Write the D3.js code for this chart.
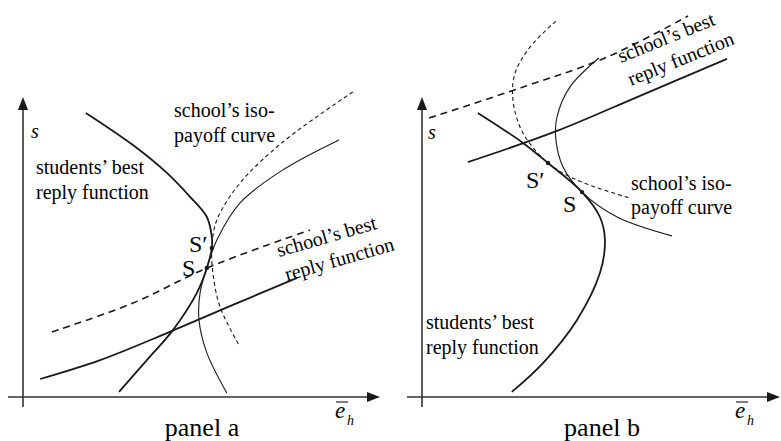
<!DOCTYPE html>
<html><head><meta charset="utf-8">
<script src="https://cdn.jsdelivr.net/npm/d3@7"></script>
</head><body style="margin:0;background:#fff">
<svg id="c" width="781" height="441" style="display:block"></svg>
<script>
// Panel a curves (data units: 0-100 on each axis)
const aStudents = [[17.6,94.7],[30.8,84.0],[40.3,74.7],[46.8,66.7],[51.5,60.0],[52.9,53.3],[52.9,49.7],[51.5,43.0],[48.7,34.7],[42.0,22.3],[34.7,12.3],[26.9,1.7]];
const aSchool = [[4.8,6.0],[21.6,12.3],[40.3,21.3],[58.8,30.7],[76.8,39.7]];
const aSchoolDashed = [[8.1,21.7],[30.8,31.3],[51.5,43.0],[80.4,55.7]];
const aIso = [[88.5,85.7],[72.8,75.7],[60.8,64.7],[54.3,52.3],[51.5,43.0],[49.6,34.7],[49.3,25.7],[51.5,14.7],[57.1,1.3]];
const aIsoDashed = [[92.4,101.7],[72.8,85.0],[60.8,71.3],[54.3,59.0],[52.9,49.7],[53.2,41.3],[55.2,30.0],[60.5,17.3]];
const aPoints = [{name:"S′",p:[52.9,49.7]},{name:"S",p:[51.5,43.0]}];
// Panel b curves
const bStudents = [[15.6,94.7],[28.2,84.7],[35.2,78.0],[44.7,68.3],[49.7,60.0],[51.1,52.3],[49.7,41.3],[43.3,25.7],[33.8,11.3],[25.1,1.7]];
const bSchool = [[12.8,78.3],[37.7,88.7],[60.9,100.4],[85.2,112.7]];
const bSchoolDashed = [[2.0,93.0],[28.2,103.3],[51.7,113.3],[74.3,127.0]];
const bIso = [[49.4,113.0],[41.3,103.3],[37.7,93.3],[37.4,85.7],[39.4,76.7],[44.7,68.3],[54.5,60.0],[69.8,53.7]];
const bIsoDashed = [[37.4,125.3],[30.2,116.7],[26.0,108.0],[25.4,99.0],[28.2,88.0],[35.2,78.0],[43.3,72.3],[58.1,66.3]];
const bPoints = [{name:"S′",p:[35.2,78.0]},{name:"S",p:[44.7,68.3]}];
const panelLabels = ["panel a","panel b"];
const textStudents = ["students’ best","reply function"];
const textIso = ["school’s iso-","payoff curve"];
const textSchool = ["school’s best","reply function"];

const svg = d3.select("#c");
const ink = "#1a1a1a";

function panel(cfg){
  const x = d3.scaleLinear().domain([0,100]).range([cfg.x0, cfg.x1]);
  const y = d3.scaleLinear().domain([0,100]).range([397, 97]);
  const txt = (size)=>svg.append("text").attr("font-size",size).attr("font-family","Times New Roman");
  const line = d3.line().x(d=>x(d[0])).y(d=>y(d[1])).curve(d3.curveCatmullRom.alpha(0.5));
  // axes
  svg.append("line").attr("x1",cfg.x0-15).attr("x2",cfg.x1-10).attr("y1",y(0)).attr("y2",y(0)).attr("stroke","#333").attr("stroke-width",1.6);
  svg.append("line").attr("x1",cfg.x0).attr("x2",cfg.x0).attr("y1",y(0)+10).attr("y2",y(100)+10).attr("stroke","#333").attr("stroke-width",1.6);
  svg.append("path").attr("d",`M${cfg.x1},${y(0)} L${cfg.x1-13},${y(0)-5} L${cfg.x1-13},${y(0)+5} Z`).attr("fill",ink);
  svg.append("path").attr("d",`M${cfg.x0},${y(100)} L${cfg.x0-5},${y(100)+13} L${cfg.x0+5},${y(100)+13} Z`).attr("fill",ink);
  // curves
  const curves = [
    [cfg.students,1.8,null],[cfg.school,1.8,null],[cfg.schoolDashed,1.6,"7,5"],
    [cfg.iso,1.1,null],[cfg.isoDashed,1.1,"4,3"]
  ];
  curves.forEach(([d,w,dash])=>{
    svg.append("path").attr("d",line(d)).attr("fill","none").attr("stroke",ink).attr("stroke-width",w).attr("stroke-dasharray",dash);
  });
  cfg.points.forEach(pt=>{
    svg.append("circle").attr("cx",x(pt.p[0])).attr("cy",y(pt.p[1])).attr("r",2.2).attr("fill",ink);
  });
  // labels
  txt(20).attr("x",cfg.sx).attr("y",cfg.sy).attr("font-style","italic").text("s");
  txt(23).attr("x",cfg.ex).attr("y",418).attr("font-style","italic").text("e");
  svg.append("line").attr("x1",cfg.ex+1).attr("x2",cfg.ex+13).attr("y1",402).attr("y2",402).attr("stroke",ink).attr("stroke-width",1.1);
  txt(14).attr("x",cfg.ex+12).attr("y",425).attr("font-style","italic").text("h");
  txt(26).attr("x",cfg.px).attr("y",436).attr("text-anchor","middle").text(cfg.panel);
  cfg.labelPts.forEach(l=>{
    txt(24).attr("x",l.x).attr("y",l.y).text(l.t);
  });
  const addLines=(arr,pos,size)=>arr.forEach((t,i)=>{
    txt(size).attr("transform",`translate(${pos[i][0]},${pos[i][1]}) rotate(${pos[i][2]||0})`).text(t);
  });
  addLines(textStudents,cfg.stPos,20);
  addLines(textIso,cfg.isoPos,20);
  addLines(textSchool,cfg.scPos,20);
}

panel({x0:23,x1:380,students:aStudents,school:aSchool,schoolDashed:aSchoolDashed,iso:aIso,isoDashed:aIsoDashed,points:aPoints,
  sx:31,sy:138,ex:335,px:202,panel:panelLabels[0],
  labelPts:[{x:189,y:252,t:"S′"},{x:182,y:276,t:"S"}],
  stPos:[[36,174],[36,199]],isoPos:[[174,117],[174,142]],scPos:[[279,257,-16],[287,281,-16]]});
panel({x0:422,x1:780,students:bStudents,school:bSchool,schoolDashed:bSchoolDashed,iso:bIso,isoDashed:bIsoDashed,points:bPoints,
  sx:428,sy:139,ex:735,px:602,panel:panelLabels[1],
  labelPts:[{x:526,y:188,t:"S′"},{x:563,y:212,t:"S"}],
  stPos:[[426,329],[426,354]],isoPos:[[631,190],[631,214]],scPos:[[621,63,-22],[631,86,-22]]});
</script>
</body></html>
